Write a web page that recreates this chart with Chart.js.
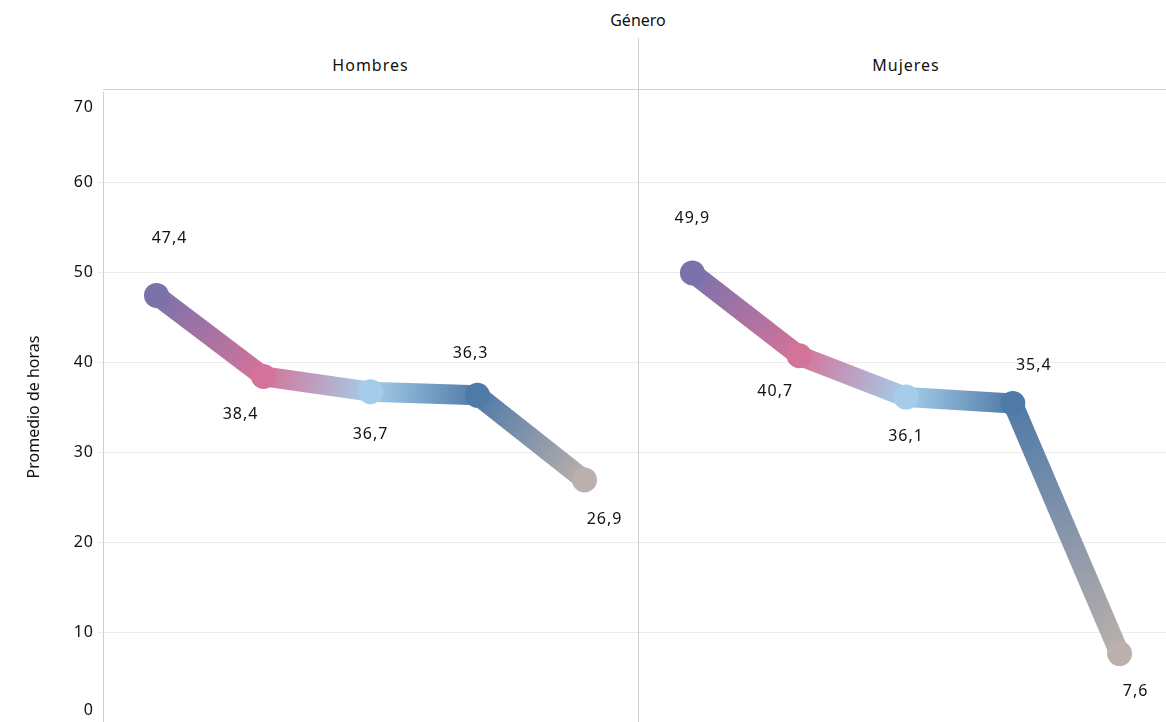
<!DOCTYPE html>
<html>
<head>
<meta charset="utf-8">
<script src="https://cdn.jsdelivr.net/npm/chart.js@4"></script>
<style>
  body { margin: 0; width: 1166px; height: 722px; position: relative; overflow: hidden; background: #fff;
         font-family: "Noto Sans", "DejaVu Sans", sans-serif; color: #111; }
  .txt { position: absolute; text-align: center; font-size: 16px; letter-spacing: 1px; }
  #genero { left: 103px; width: 1070px; top: 8px; line-height: 24px; letter-spacing: 0; }
  .head { top: 38px; height: 51px; line-height: 54px; border-bottom: 1px solid #cfcfcf; }
  #hH { left: 103px; width: 535px; }
  #hM { left: 639px; width: 534px; }
  #divider { position: absolute; left: 638px; top: 38px; bottom: 0; width: 1px; background: #cfcfcf; }
  .panel { position: absolute; top: 90px; height: 632px; }
  #pH { left: 0; width: 638px; }
  #pM { left: 639px; width: 534px; }
</style>
</head>
<body>
<div id="genero" class="txt">Género</div>
<div id="hH" class="txt head">Hombres</div>
<div id="hM" class="txt head">Mujeres</div>
<div id="divider"></div>
<div id="pH" class="panel"><canvas id="chartH"></canvas></div>
<div id="pM" class="panel"><canvas id="chartM"></canvas></div>
<script>
const categories = ["A", "B", "C", "D", "E"];
const hombres = [47.4, 38.4, 36.7, 36.3, 26.9];
const mujeres = [49.9, 40.7, 36.1, 35.4, 7.6];
const yTicks = [0, 10, 20, 30, 40, 50, 60, 70];
const pointColors = ["#7b72ab", "#d4739a", "#a5cde9", "#4f7aa8", "#bbb0ac"];

// label placement per point: [dx, dy] relative to the point
const labelsH = [[13, -57], [-23, 38], [0, 43], [-7, -42], [20, 40]];
const labelsM = [[0, -54], [-24, 36], [0, 39], [21, -38], [16, 38]];

const fmt = v => v.toFixed(1).replace(".", ",");

const valueLabels = {
  id: "valueLabels",
  afterDatasetsDraw(chart, args, opts) {
    const c = chart.ctx;
    const meta = chart.getDatasetMeta(0);
    const data = chart.data.datasets[0].data;
    c.save();
    c.font = "16px 'Noto Sans', sans-serif";
    c.letterSpacing = "1px";
    c.fillStyle = "#111";
    c.textAlign = "center";
    c.textBaseline = "middle";
    meta.data.forEach((pt, i) => {
      const [dx, dy] = opts.pos[i];
      c.fillText(fmt(data[i]), pt.x + dx, pt.y + dy);
    });
    c.restore();
  }
};

const yLabels = {
  id: "yLabels",
  afterDraw(chart, args, opts) {
    if (!opts.show) return;
    const c = chart.ctx;
    const y = chart.scales.y;
    c.save();
    c.font = "16px 'Noto Sans', sans-serif";
    c.letterSpacing = "1px";
    c.fillStyle = "#111";
    c.textAlign = "right";
    c.textBaseline = "middle";
    yTicks.forEach(t => {
      let py = y.getPixelForValue(t);
      py = Math.max(chart.chartArea.top + 15, Math.min(chart.chartArea.bottom - 12, py));
      c.fillText(String(t), 94, py);
    });
    c.restore();
  }
};

function gradSeg(ctx) {
  const g = ctx.chart.ctx.createLinearGradient(ctx.p0.x, ctx.p0.y, ctx.p1.x, ctx.p1.y);
  g.addColorStop(0, pointColors[ctx.p0DataIndex]);
  g.addColorStop(1, pointColors[ctx.p1DataIndex]);
  return g;
}

function makeChart(id, values, pos, showAxis) {
  return new Chart(document.getElementById(id), {
    type: "line",
    data: {
      labels: categories,
      datasets: [{
        data: values,
        borderWidth: 20,
        borderCapStyle: "butt",
        borderJoinStyle: "round",
        segment: { borderColor: gradSeg },
        pointRadius: 12.5,
        pointHoverRadius: 12.5,
        pointBorderWidth: 0,
        pointBackgroundColor: pointColors,
        tension: 0,
        clip: false
      }]
    },
    options: {
      responsive: true,
      maintainAspectRatio: false,
      animation: false,
      layout: { autoPadding: false, padding: { top: 2, right: 0, bottom: 0, left: 0 } },
      plugins: {
        legend: { display: false },
        tooltip: { enabled: false },
        valueLabels: { pos: pos },
        yLabels: { show: showAxis }
      },
      scales: {
        x: { display: false, offset: true },
        y: {
          min: 0, max: 70,
          ticks: { stepSize: 10, display: false },
          grid: { color: ctx => ctx.tick.value === 70 ? "rgba(0,0,0,0)" : "#ececec", tickLength: showAxis ? 6 : 0, drawTicks: showAxis },
          border: { display: showAxis, color: "#cfcfcf" },
          title: {
            display: showAxis,
            text: "Promedio de horas",
            color: "#111",
            font: { family: "'Noto Sans', sans-serif", size: 16 },
            padding: { top: 25, bottom: 0 }
          },
          afterFit(scale) { scale.width = showAxis ? 103 : 0; }
        }
      }
    },
    plugins: [valueLabels, yLabels]
  });
}

makeChart("chartH", hombres, labelsH, true);
makeChart("chartM", mujeres, labelsM, false);
</script>
</body>
</html>
